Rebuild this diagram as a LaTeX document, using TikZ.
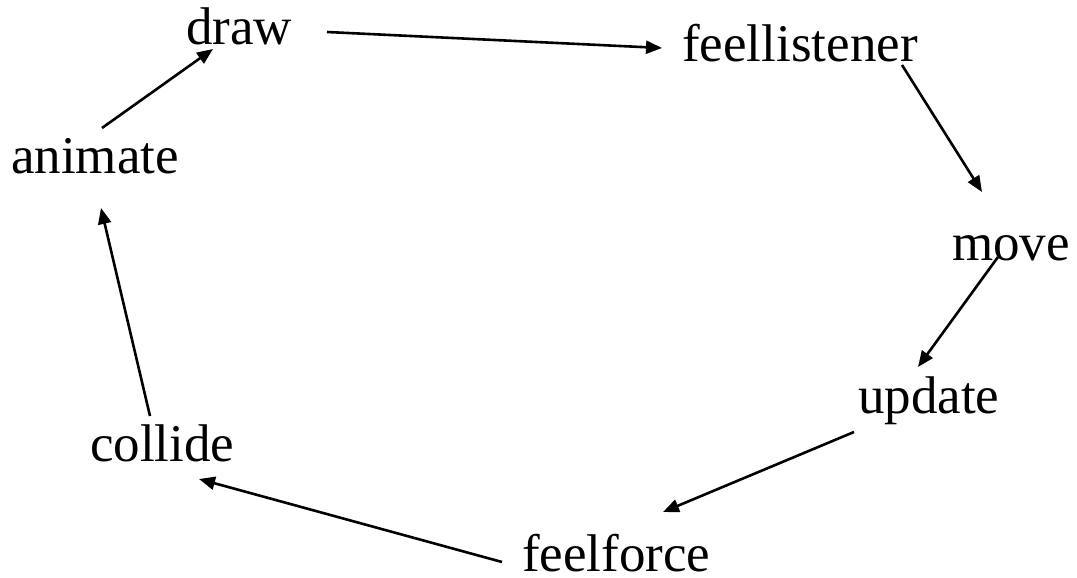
\documentclass[tikz,border=0pt]{standalone}
\usepackage{fontspec}
\setmainfont{Liberation Serif}
\usetikzlibrary{arrows.meta}
\begin{document}
\begin{tikzpicture}[x=1pt,y=-1pt,
  lbl/.style={anchor=base west,inner sep=0pt,font=\fontsize{53}{60}\selectfont},
  flow/.style={line width=2.6pt,-{Triangle[length=16pt,width=13pt]}}]
\useasboundingbox (0,0) rectangle (1077,578);
% cycle stages
\node[lbl] (draw)   at (186,45)  {draw};
\node[lbl] (listen) at (682,62)  {feellistener};
\node[lbl] (move)   at (952,260) {move};
\node[lbl] (update) at (858,413) {update};
\node[lbl] (force)  at (522,571) {feelforce};
\node[lbl] (coll)   at (90,461)  {collide};
\node[lbl] (anim)   at (11,173)  {animate};
% transitions around the loop
\draw[flow] ([shift={(91,-45)}]anim.base west)   -- ([shift={(27,4)}]draw.base west);
\draw[flow] ([shift={(141,-13)}]draw.base west)  -- ([shift={(-20,-14)}]listen.base west);
\draw[flow] ([shift={(220,3)}]listen.base west)  -- ([shift={(30,-68)}]move.base west);
\draw[flow] ([shift={(46,-3)}]move.base west)    -- ([shift={(60,-46)}]update.base west);
\draw[flow] ([shift={(-4,19)}]update.base west)  -- ([shift={(141,-59)}]force.base west);
\draw[flow] ([shift={(-20,-9)}]force.base west)  -- ([shift={(109,18)}]coll.base west);
\draw[flow] ([shift={(60,-45)}]coll.base west)   -- ([shift={(90,35)}]anim.base west);
\end{tikzpicture}
\end{document}
